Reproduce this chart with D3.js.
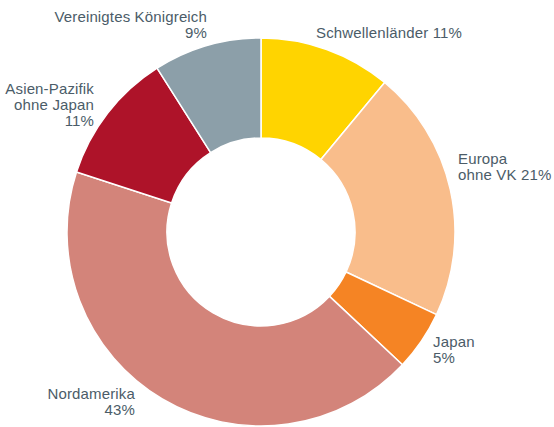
<!DOCTYPE html>
<html>
<head>
<meta charset="utf-8">
<script src="https://cdn.jsdelivr.net/npm/d3@7"></script>
<style>
  html, body { margin: 0; padding: 0; background: #fff; }
  svg text { font-family: "Liberation Sans", Arial, sans-serif; font-size: 15px; letter-spacing: 0.15px; fill: #4b5c68; }
</style>
</head>
<body>
<svg id="chart" width="554" height="427"></svg>
<script>
// regions, clockwise from 12 o'clock
var regions = ["Schwellenländer", "Europa ohne VK", "Japan", "Nordamerika", "Asien-Pazifik ohne Japan", "Vereinigtes Königreich"];
var shares = [11, 21, 5, 43, 11, 9];
var colors = ["#ffd400", "#f9bd8b", "#f58424", "#d3847a", "#ae1329", "#8c9fa9"];
var labelLines = [
  ["Schwellenländer 11%"],
  ["Europa", "ohne VK 21%"],
  ["Japan", "5%"],
  ["Nordamerika", "43%"],
  ["Asien-Pazifik", "ohne Japan", "11%"],
  ["Vereinigtes Königreich", "9%"]
];

// label anchors (x, first baseline, text-anchor)
var labelLayout = [
  { x: 316, y: 38, anchor: "start" },
  { x: 458, y: 164, anchor: "start" },
  { x: 433, y: 347, anchor: "start" },
  { x: 135, y: 399, anchor: "end" },
  { x: 94, y: 94, anchor: "end" },
  { x: 207, y: 22, anchor: "end" }
];

var cx = 261, cy = 232, outerR = 194, innerR = 94;

var svg = d3.select("#chart");

var pie = d3.pie().sort(null).value(function(d) { return d; });
var arc = d3.arc().innerRadius(innerR).outerRadius(outerR);

var g = svg.append("g").attr("transform", "translate(" + cx + "," + cy + ")");

g.selectAll("path")
  .data(pie(shares))
  .enter().append("path")
  .attr("d", arc)
  .attr("fill", function(d, i) { return colors[i]; })
  .attr("stroke", "#fff")
  .attr("stroke-width", 1.5)
  .attr("stroke-linejoin", "round");

// labels
var labels = svg.selectAll("text.lbl")
  .data(labelLines)
  .enter().append("text")
  .attr("class", "lbl")
  .attr("text-anchor", function(d, i) { return labelLayout[i].anchor; });

labels.each(function(lines, i) {
  var t = d3.select(this);
  lines.forEach(function(line, j) {
    t.append("tspan")
      .attr("x", labelLayout[i].x)
      .attr("y", labelLayout[i].y + j * 16)
      .text(line);
  });
});
</script>
</body>
</html>
